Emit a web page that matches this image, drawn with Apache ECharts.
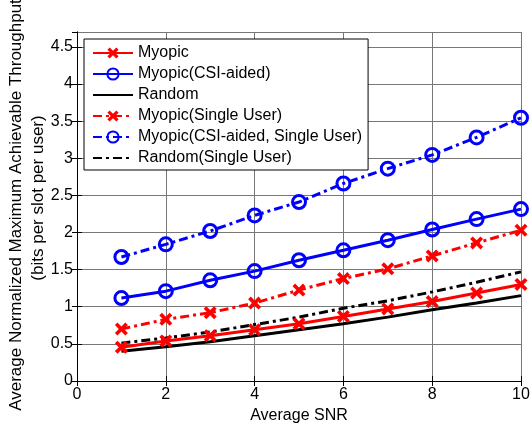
<!DOCTYPE html>
<html><head><meta charset="utf-8">
<script src="https://cdn.jsdelivr.net/npm/echarts@6/dist/echarts.min.js"></script>
<style>html,body{margin:0;padding:0;background:#fff}#c{width:530px;height:427px}</style>
</head><body><div id="c"></div>
<script>
const snr = [1,2,3,4,5,6,7,8,9,10];
const myopic = [0.455,0.54,0.61,0.69,0.77,0.87,0.97,1.07,1.185,1.30];
const myopicCSI = [1.117,1.21,1.356,1.48,1.626,1.76,1.896,2.04,2.18,2.315];
const random = [0.40,0.46,0.53,0.61,0.69,0.77,0.86,0.96,1.05,1.15];
const myopicSU = [0.70,0.83,0.92,1.05,1.225,1.38,1.51,1.685,1.86,2.03];
const myopicCSISU = [1.67,1.84,2.02,2.23,2.41,2.66,2.86,3.045,3.28,3.545];
const randomSU = [0.51,0.58,0.66,0.76,0.86,0.98,1.08,1.2,1.33,1.47];
const names = ['Myopic','Myopic(CSI-aided)','Random','Myopic(Single User)','Myopic(CSI-aided, Single User)','Random(Single User)'];
const yTitle1 = 'Average Normalized Maximum Achievable Throughput';
const yTitle2 = '(bits per slot per user)';
const xTitle = 'Average SNR';

const xMark = 'path://M2,0L5,3L8,0L10,2L7,5L10,8L8,10L5,7L2,10L0,8L3,5L0,2Z';
const dashDot = [9,4,3,4];
const font = 'Liberation Sans, Arial, sans-serif';
function pts(arr){ return snr.map((x,i)=>[x,arr[i]]); }
function s(name, data, color, dashed, marker){
  const o = {name, type:'line', data:pts(data), lineStyle:{color, width:3, type: dashed?dashDot:'solid'},
    itemStyle:{color}, z: 3, animation:false};
  if (marker==='x'){ o.symbol = xMark; o.symbolSize = 13; o.itemStyle = {color}; }
  else if (marker==='o'){ o.symbol='circle'; o.symbolSize=13; o.itemStyle={color:'rgba(0,0,0,0)', borderColor:color, borderWidth:3}; }
  else { o.symbol='none'; }
  return o;
}
const chart = echarts.init(document.getElementById('c'));
const axisCommon = {
  axisLine:{show:true, lineStyle:{color:'#000', width:1}},
  axisTick:{show:true, inside:true, length:5, lineStyle:{color:'#000'}},
};
chart.setOption({
  animation:false,
  grid:{left:77, right:9, top:32, bottom:46, show:false, containLabel:false, outerBoundsMode:'none'},
  graphic:[
    {type:'text', x:16, y:205, rotation:Math.PI/2, silent:true,
     style:{text:yTitle1, fontSize:17, fontFamily:font, fill:'#000', align:'center', verticalAlign:'middle'}},
    {type:'text', x:38, y:198, rotation:Math.PI/2, silent:true,
     style:{text:yTitle2, fontSize:17, fontFamily:font, fill:'#000', align:'center', verticalAlign:'middle'}}
  ],
  legend:{
    orient:'vertical', left:84, top:39,
    backgroundColor:'#fff', borderColor:'#000', borderWidth:1,
    padding:[6,6,4,8], itemWidth:40, itemHeight:14, itemGap:5,
    textStyle:{fontFamily:font, fontSize:16, lineHeight:16, color:'#000'},
    data:names.map((n,i)=> (i===2||i===5) ? {name:n, itemStyle:{opacity:0}} : {name:n})
  },
  xAxis:[{type:'value', min:0, max:10, interval:2, ...axisCommon,
      axisLabel:{color:'#000', fontFamily:font, fontSize:16, margin:6},
      splitLine:{show:true, lineStyle:{color:'#777', width:1}},
      name:xTitle, nameLocation:'middle', nameGap:27,
      nameTextStyle:{color:'#000', fontFamily:font, fontSize:16}},
    {type:'value', min:0, max:10, interval:2, position:'top', ...axisCommon, axisLabel:{show:false}, splitLine:{show:false}}],
  yAxis:[{type:'value', min:0, max:4.7, interval:0.5, ...axisCommon,
      axisLabel:{color:'#000', fontFamily:font, fontSize:16, margin:4, showMaxLabel:false},
      splitLine:{show:true, lineStyle:{color:'#777', width:1}}},
    {type:'value', min:0, max:4.7, interval:0.5, position:'right', ...axisCommon, axisLabel:{show:false}, splitLine:{show:false}}],
  series:[
    s(names[0], myopic, '#ff0000', false, 'x'),
    s(names[1], myopicCSI, '#0000ff', false, 'o'),
    s(names[2], random, '#000000', false, null),
    s(names[3], myopicSU, '#ff0000', true, 'x'),
    s(names[4], myopicCSISU, '#0000ff', true, 'o'),
    s(names[5], randomSU, '#000000', true, null)
  ]
});
</script></body></html>
